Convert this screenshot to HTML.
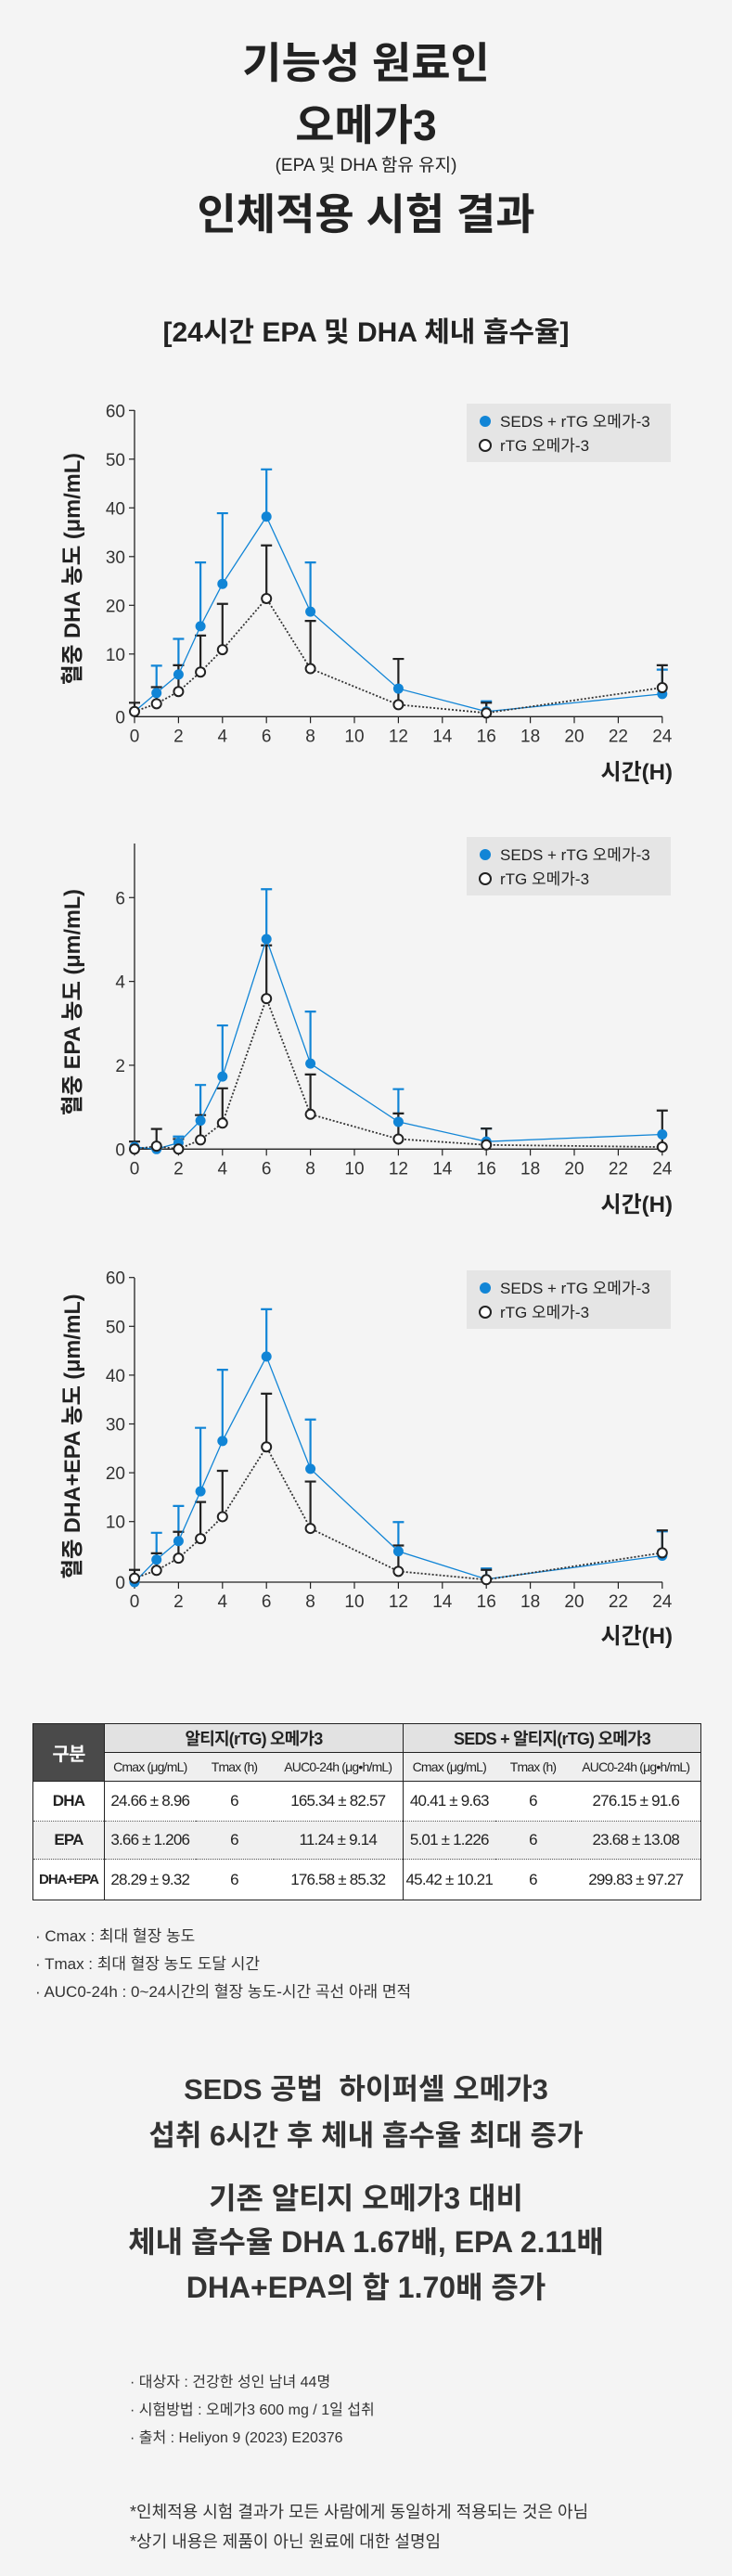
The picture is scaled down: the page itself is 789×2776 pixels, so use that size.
<!DOCTYPE html>
<html><head><meta charset="utf-8">
<style>
*{margin:0;padding:0;box-sizing:border-box}
body{width:789px;height:2776px;background:#f4f4f4;position:relative;overflow:hidden;font-family:"Liberation Sans","Noto Sans CJK KR",sans-serif;color:#222}
.t{position:absolute;left:0;width:789px;text-align:center;white-space:nowrap;line-height:1}
.n{position:absolute;white-space:nowrap;line-height:1;color:#333}
table{position:absolute;left:35px;top:1857px;border-collapse:collapse;border:1.5px solid #222;table-layout:fixed;font-size:17px;letter-spacing:-0.8px}
td{text-align:center;vertical-align:middle;padding:0;white-space:nowrap}
</style></head><body>
<div class="t" style="top:45px;font-size:46px;font-weight:bold">기능성 원료인</div>
<div class="t" style="top:112px;font-size:46px;font-weight:bold">오메가3</div>
<div class="t" style="top:169px;font-size:19px">(EPA 및 DHA 함유 유지)</div>
<div class="t" style="top:208px;font-size:46px;font-weight:bold">인체적용 시험 결과</div>
<div class="t" style="top:344px;font-size:30px;font-weight:bold">[24시간 EPA 및 DHA 체내 흡수율]</div>

<svg id="charts" width="789" height="2776" style="position:absolute;left:0;top:0" xmlns="http://www.w3.org/2000/svg"></svg>

<table>
<colgroup><col style="width:77px"><col style="width:98px"><col style="width:84px"><col style="width:140px"><col style="width:99px"><col style="width:82px"><col style="width:140px"></colgroup>
<tr style="height:31px">
<td rowspan="2" style="background:#4a4a4a;color:#fff;font-weight:bold;font-size:20px;border-right:1.5px solid #222">구분</td>
<td colspan="3" style="background:#e2e2e2;font-weight:bold;font-size:18px;border-bottom:1.5px solid #222;border-right:1.5px solid #222">알티지(rTG) 오메가3</td>
<td colspan="3" style="background:#e2e2e2;font-weight:bold;font-size:18px;border-bottom:1.5px solid #222">SEDS + 알티지(rTG) 오메가3</td></tr>
<tr style="height:31px;background:#efefef;font-size:14px">
<td>Cmax (μg/mL)</td><td>Tmax (h)</td><td style="border-right:1.5px solid #222">AUC0-24h (μg•h/mL)</td>
<td>Cmax (μg/mL)</td><td>Tmax (h)</td><td>AUC0-24h (μg•h/mL)</td></tr>
<tr style="height:43px;background:#fff;border-top:1.5px solid #222;border-bottom:1px dotted #555">
<td style="font-weight:bold;font-size:17px;border-right:1.5px solid #222">DHA</td><td>24.66 ± 8.96</td><td>6</td><td style="border-right:1.5px solid #222">165.34 ± 82.57</td><td>40.41 ± 9.63</td><td>6</td><td>276.15 ± 91.6</td></tr>
<tr style="height:41px;background:#f0f0f0;border-bottom:1px dotted #555">
<td style="font-weight:bold;font-size:17px;border-right:1.5px solid #222">EPA</td><td>3.66 ± 1.206</td><td>6</td><td style="border-right:1.5px solid #222">11.24 ± 9.14</td><td>5.01 ± 1.226</td><td>6</td><td>23.68 ± 13.08</td></tr>
<tr style="height:44px;background:#fff">
<td style="font-weight:bold;font-size:15px;letter-spacing:-1px;border-right:1.5px solid #222">DHA+EPA</td><td>28.29 ± 9.32</td><td>6</td><td style="border-right:1.5px solid #222">176.58 ± 85.32</td><td>45.42 ± 10.21</td><td>6</td><td>299.83 ± 97.27</td></tr>
</table>

<div class="n" style="left:38px;top:2078px;font-size:17px">· Cmax : 최대 혈장 농도</div>
<div class="n" style="left:38px;top:2108px;font-size:17px">· Tmax : 최대 혈장 농도 도달 시간</div>
<div class="n" style="left:38px;top:2138px;font-size:17px">· AUC0-24h : 0~24시간의 혈장 농도-시간 곡선 아래 면적</div>

<div class="t" style="top:2236px;font-size:31px;font-weight:bold;color:#333">SEDS 공법&nbsp; 하이퍼셀 오메가3</div>
<div class="t" style="top:2286px;font-size:31px;font-weight:bold;color:#333">섭취 6시간 후 체내 흡수율 최대 증가</div>
<div class="t" style="top:2353px;font-size:32px;font-weight:bold;color:#333">기존 알티지 오메가3 대비</div>
<div class="t" style="top:2400px;font-size:32px;font-weight:bold;color:#333">체내 흡수율 DHA 1.67배, EPA 2.11배</div>
<div class="t" style="top:2449px;font-size:32px;font-weight:bold;color:#333">DHA+EPA의 합 1.70배 증가</div>

<div class="n" style="left:140px;top:2560px;font-size:16px">· 대상자 : 건강한 성인 남녀 44명</div>
<div class="n" style="left:140px;top:2590px;font-size:16px">· 시험방법 : 오메가3 600 mg / 1일 섭취</div>
<div class="n" style="left:140px;top:2620px;font-size:16px">· 출처 : Heliyon 9 (2023) E20376</div>
<div class="n" style="left:140px;top:2698px;font-size:18px">*인체적용 시험 결과가 모든 사람에게 동일하게 적용되는 것은 아님</div>
<div class="n" style="left:140px;top:2730px;font-size:18px">*상기 내용은 제품이 아닌 원료에 대한 설명임</div>

<script>
// shared time axis
const hours = [0,1,2,3,4,6,8,12,16,24];
const xTicks = [0,2,4,6,8,10,12,14,16,18,20,22,24];
// DHA chart
const dhaSeds = [-1.8,2.0,5.8,15.7,24.4,38.2,18.7,2.9,-1.8,1.8];
const dhaSedsErr = [null,7.6,13.1,28.8,38.9,47.9,28.8,null,0.3,6.8];
const dhaRtg = [-1.8,-0.2,2.3,6.3,10.9,21.4,7.0,-0.4,-2.1,3.1];
const dhaRtgErr = [0,3.2,7.7,13.8,20.3,32.3,16.8,9.0,0,7.7];
const dhaYTicks = [10,20,30,40,50,60];
// EPA chart
const epaSeds = [0.05,0,0.15,0.68,1.73,5.01,2.04,0.65,0.18,0.35];
const epaSedsErr = [null,null,0.3,1.53,2.95,6.2,3.28,1.43,0.49,null];
const epaRtg = [0,0.07,0,0.22,0.62,3.59,0.83,0.24,0.1,0.05];
const epaRtgErr = [0.18,0.48,0.24,0.81,1.45,4.86,1.78,0.85,0.49,0.92];
const epaYTicks = [2,4,6];
// DHA+EPA chart
const sumSeds = [-2.4,2.2,6.0,16.2,26.5,43.8,20.8,3.9,-1.8,3.0];
const sumSedsErr = [null,7.7,13.2,29.2,41.1,53.5,30.9,9.9,0.4,8.0];
const sumRtg = [-1.6,0,2.5,6.5,11.0,25.3,8.6,-0.2,-1.9,3.6];
const sumRtgErr = [0.1,3.5,7.9,14.0,20.4,36.2,18.2,5.1,0.1,8.2];
const sumYTicks = [10,20,30,40,50,60];

const NS = 'http://www.w3.org/2000/svg';
const svg = document.getElementById('charts');
const BLUE = '#1185d6';
function mk(tag, attrs, parent){
  const e = document.createElementNS(NS, tag);
  for (const k in attrs) e.setAttribute(k, attrs[k]);
  (parent||svg).appendChild(e);
  return e;
}
const xs = t => 145 + 23.7 * t;

function chart(name, cfg, seds, sedsErr, rtg, rtgErr, yTicks, title){
  const g = mk('g', {});
  
  
  const ys = v => cfg.zero - cfg.ppu * v;
  const ya = mk('line', {x1:145,x2:145,y1:cfg.top,y2:cfg.axis,stroke:'#222','stroke-width':1.3}, g);
  
  
  const xa = mk('line', {x1:145,x2:714,y1:cfg.axis,y2:cfg.axis,stroke:'#222','stroke-width':1.3}, g);
  
  
  xTicks.forEach(t => {
    mk('line', {x1:xs(t),x2:xs(t),y1:cfg.axis,y2:cfg.axis+7,stroke:'#222','stroke-width':1.2}, g);
    const tl = mk('text', {x:xs(t),y:cfg.axis+27,'text-anchor':'middle','font-size':19,fill:'#333','font-family':'Liberation Sans Narrow, Liberation Sans, sans-serif'}, g);
    tl.textContent = t;
    
    
  });
  const z = mk('text', {x:135,y:cfg.axis+7,'text-anchor':'end','font-size':19,fill:'#333'}, g);
  z.textContent = '0';
  
  
  yTicks.forEach(v => {
    mk('line', {x1:139,x2:145,y1:ys(v),y2:ys(v),stroke:'#222','stroke-width':1.2}, g);
    const tl = mk('text', {x:135,y:ys(v)+7,'text-anchor':'end','font-size':19,fill:'#333','font-family':'Liberation Sans Narrow, Liberation Sans, sans-serif'}, g);
    tl.textContent = v;
    
    
  });
  const yt = mk('text', {x:0,y:0,transform:`translate(86 ${cfg.titleY}) rotate(-90)`,'text-anchor':'middle','font-size':24,'font-weight':'bold',fill:'#222',textLength:cfg.titleLen,lengthAdjust:'spacingAndGlyphs'}, g);
  yt.textContent = title;
  
  
  const xt = mk('text', {x:725,y:cfg.xTitleY,'text-anchor':'end','font-size':24,'font-weight':'bold',fill:'#222'}, g);
  xt.textContent = '시간(H)';
  
  
  const lg = mk('g', {}, g);
  
  
  mk('rect', {x:503,y:cfg.legY,width:220,height:63,fill:'#e5e5e5'}, lg);
  mk('circle', {cx:523,cy:cfg.legY+19,r:6,fill:BLUE}, lg);
  const l1 = mk('text', {x:539,y:cfg.legY+25,'font-size':17,fill:'#222'}, lg);
  l1.textContent = 'SEDS + rTG 오메가-3';
  
  
  mk('circle', {cx:523,cy:cfg.legY+45,r:6,fill:'#fff',stroke:'#222','stroke-width':2}, lg);
  const l2 = mk('text', {x:539,y:cfg.legY+51,'font-size':17,fill:'#222'}, lg);
  l2.textContent = 'rTG 오메가-3';
  
  
  function errs(vals, tops, color, nm){
    hours.forEach((t,i) => {
      if (tops[i] === null) return;
      const x = xs(t);
      const eb = mk('path', {d:`M${x} ${ys(vals[i])}V${ys(tops[i])}M${x-6} ${ys(tops[i])}H${x+6}`,stroke:color,'stroke-width':2.2,fill:'none'}, g);
      
      
    });
  }
  errs(seds, sedsErr, BLUE, 'error-bar-seds');
  errs(rtg, rtgErr, '#222', 'error-bar-rtg');
  const lb = mk('polyline', {points:hours.map((t,i)=>xs(t)+','+ys(seds[i])).join(' '),fill:'none',stroke:BLUE,'stroke-width':1.3}, g);
  
  
  const lr = mk('polyline', {points:hours.map((t,i)=>xs(t)+','+ys(rtg[i])).join(' '),fill:'none',stroke:'#333','stroke-width':1.8,'stroke-dasharray':'2 2'}, g);
  
  
  hours.forEach((t,i) => {
    const p = mk('ellipse', {cx:xs(t),cy:ys(seds[i]),rx:5.5,ry:5.5,fill:BLUE}, g);
    
    
  });
  hours.forEach((t,i) => {
    const p = mk('circle', {cx:xs(t),cy:ys(rtg[i]),r:5,fill:'#fff',stroke:'#222','stroke-width':2}, g);
    
    
  });
}

chart('dha-chart', {zero:757.3,ppu:5.25,axis:772.3,top:442,titleY:613,titleLen:250,xTitleY:840,legY:435},
  dhaSeds, dhaSedsErr, dhaRtg, dhaRtgErr, dhaYTicks, '혈중 DHA 농도 (μm/mL)');
chart('epa-chart', {zero:1238.3,ppu:45.17,axis:1238.3,top:909,titleY:1080,titleLen:244,xTitleY:1306,legY:902},
  epaSeds, epaSedsErr, epaRtg, epaRtgErr, epaYTicks, '혈중 EPA 농도 (μm/mL)');
chart('dha-epa-chart', {zero:1692.3,ppu:5.26,axis:1705,top:1377,titleY:1548,titleLen:307,xTitleY:1771,legY:1369},
  sumSeds, sumSedsErr, sumRtg, sumRtgErr, sumYTicks, '혈중 DHA+EPA 농도 (μm/mL)');
</script>
</body></html>
